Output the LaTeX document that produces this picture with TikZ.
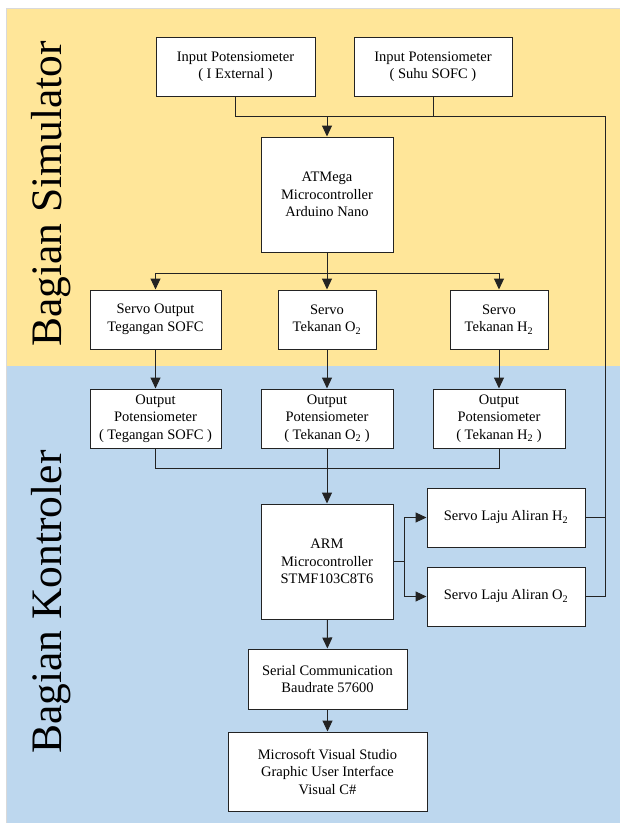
\documentclass[tikz,border=0pt]{standalone}
\usepackage{fontspec}
\setmainfont{Liberation Serif}
\usepackage{tikz}
\usetikzlibrary{arrows.meta,calc,positioning,shadows}
\definecolor{simbg}{RGB}{255,230,153}
\definecolor{konbg}{RGB}{189,215,238}
\definecolor{ln}{RGB}{35,35,35}

\begin{document}
\begin{tikzpicture}[x=1pt,y=-1pt,
box/.style={draw=ln,line width=1pt,fill=white,align=center,inner sep=0pt,
  font=\fontsize{14.5}{17.5}\selectfont,
  drop shadow={shadow xshift=1pt,shadow yshift=-1pt,opacity=0.25}},
big/.style={rotate=90,anchor=base,font=\fontsize{43.5}{50}\selectfont},
wire/.style={draw=ln,line width=1pt},
arr/.style={wire,-{Triangle[length=11pt,width=10pt]}}]
\useasboundingbox (0,0) rectangle (620,823);
\fill[white] (0,0) rectangle (620,823);
\fill[simbg] (6,8) rectangle (620,366);
\fill[konbg] (6,366) rectangle (620,823);
\draw[black!15,line width=0.8pt] (6,823) -- (6,8) -- (620,8);
\node[big] (TS) at (61,194) {Bagian Simulator};
\node[big] (TK) at (61,602) {Bagian Kontroler};
% simulator
\node[box,minimum width=159pt,minimum height=59pt] (A) at (235.5,66.5) {Input Potensiometer\\( I External )};
\node[box,minimum width=158pt,minimum height=59pt] (B) at (433,66.5) {Input Potensiometer\\( Suhu SOFC )};
\node[box,minimum width=132pt,minimum height=115pt] (M) at (327,194.5) {ATMega\\Microcontroller\\Arduino Nano};
\node[box,minimum width=131pt,minimum height=59pt] (S1) at (155.5,319.5) {Servo Output\\Tegangan SOFC};
\node[box,minimum width=98pt,minimum height=59pt] (S2) at (327,319.5) {Servo\\Tekanan O\textsubscript{2}};
\node[box,minimum width=98pt,minimum height=59pt] (S3) at (499,319.5) {Servo\\Tekanan H\textsubscript{2}};
% kontroler
\node[box,minimum width=131pt,minimum height=59pt] (P1) at (155.5,418.5) {Output\\Potensiometer\\( Tegangan SOFC )};
\node[box,minimum width=132pt,minimum height=59pt] (P2) at (327,418.5) {Output\\Potensiometer\\( Tekanan O\textsubscript{2} )};
\node[box,minimum width=132pt,minimum height=59pt] (P3) at (499,418.5) {Output\\Potensiometer\\( Tekanan H\textsubscript{2} )};
\node[box,minimum width=132pt,minimum height=115pt] (R) at (327,561.5) {ARM\\Microcontroller\\STMF103C8T6};
\node[box,minimum width=158pt,minimum height=59pt] (L1) at (506,517.5) {Servo Laju Aliran H\textsubscript{2}};
\node[box,minimum width=158pt,minimum height=59pt] (L2) at (506,596.5) {Servo Laju Aliran O\textsubscript{2}};
\node[box,minimum width=159pt,minimum height=60pt] (C) at (327.5,679) {Serial Communication\\Baudrate 57600};
\node[box,minimum width=199pt,minimum height=79pt] (G) at (327.5,771.5) {Microsoft Visual Studio\\Graphic User Interface\\Visual C\#};
% junctions
\coordinate (J1) at (327,116);
\coordinate (J2) at (605,116);
\coordinate (J3) at (327,273);
\coordinate (J4) at (327,468);
\coordinate (J5) at (404,561.5);
\draw[wire] (A.south) |- (J1);
\draw[wire] (B.south) |- (J1);
\draw[wire] (L1.east) -| (J2);
\draw[wire] (L2.east) -| (J2) -- (J1);
\draw[wire] (M.south) -- (J3);
\draw[wire] (P1.south) |- (J4);
\draw[wire] (P3.south) |- (J4);
\draw[wire] (P2.south) -- (J4);
\draw[wire] (R.east) -- (J5);
\draw[arr] (J1) -- (M.north);
\draw[arr] (J3) -| (S1.north);
\draw[arr] (J3) -- (S2.north);
\draw[arr] (J3) -| (S3.north);
\draw[arr] (S1) -- (P1);
\draw[arr] (S2) -- (P2);
\draw[arr] (S3) -- (P3);
\draw[arr] (J4) -- (R.north);
\draw[arr] (J5) |- (L1.west);
\draw[arr] (J5) |- (L2.west);
\draw[arr] (R) -- (C);
\draw[arr] (C) -- (G);
\end{tikzpicture}
\end{document}
